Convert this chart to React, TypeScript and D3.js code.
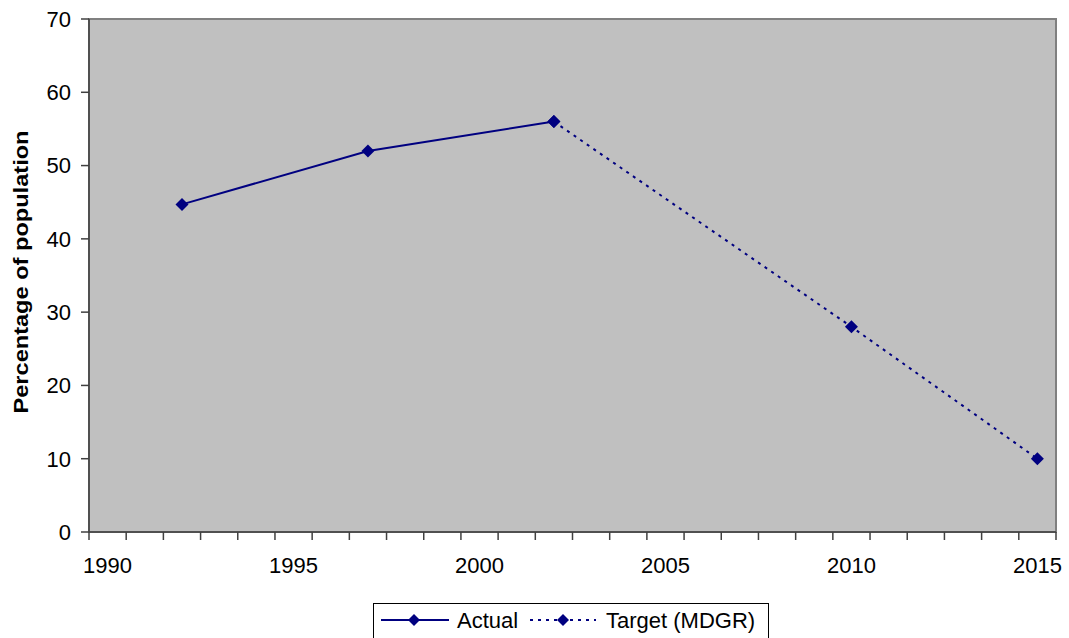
import React from "react";
import * as d3 from "d3";

const categories: number[] = [1990, 1991, 1992, 1993, 1994, 1995, 1996, 1997, 1998, 1999, 2000, 2001, 2002, 2003, 2004, 2005, 2006, 2007, 2008, 2009, 2010, 2011, 2012, 2013, 2014, 2015];
const xTickLabels: number[] = [1990, 1995, 2000, 2005, 2010, 2015];
const yTicks: number[] = [0, 10, 20, 30, 40, 50, 60, 70];
const actualYears: number[] = [1992, 1997, 2002];
const actualValues: number[] = [44.7, 52, 56];
const targetYears: number[] = [2002, 2010, 2015];
const targetValues: number[] = [56, 28, 10];
const seriesNames = ["Actual", "Target (MDGR)"];

const W = 1069;
const H = 638;
const left = 89;
const right = 1056;
const top = 19;
const bottom = 532;
const FONT = "'Liberation Sans', Arial, sans-serif";
const NAVY = "#000080";

function Diamond({ cx, cy, r = 6.5 }: { cx: number; cy: number; r?: number }) {
  return <path d={`M${cx},${cy - r}L${cx + r},${cy}L${cx},${cy + r}L${cx - r},${cy}Z`} fill={NAVY} />;
}

export default function App() {
  const x = d3.scaleBand<number>().domain(categories).range([left, right]).padding(0);
  const y = d3.scaleLinear().domain([0, 70]).range([bottom, top]);
  const cx = (yr: number) => (x(yr) as number) + x.bandwidth() / 2;

  const line = d3
    .line<[number, number]>()
    .x((d) => cx(d[0]))
    .y((d) => y(d[1]));
  const actual: [number, number][] = actualYears.map((yr, i) => [yr, actualValues[i]]);
  const target: [number, number][] = targetYears.map((yr, i) => [yr, targetValues[i]]);

  const boundaries = categories.map((c) => x(c) as number).concat([right]);

  return (
    <svg width={W} height={H} style={{ position: "absolute", left: 0, top: 0, background: "#fff" }} fontFamily={FONT}>
      <rect x={left} y={top} width={right - left} height={bottom - top} fill="#C0C0C0" stroke="#808080" strokeWidth={2} />
      <line x1={left} x2={left} y1={top} y2={bottom} stroke="#404040" strokeWidth={1.5} />
      <line x1={left} x2={right} y1={bottom} y2={bottom} stroke="#404040" strokeWidth={1.5} />
      {yTicks.map((t) => (
        <g key={t}>
          <line x1={left - 8} x2={left} y1={y(t)} y2={y(t)} stroke="#404040" strokeWidth={1.5} />
          <text x={71} y={y(t)} dy="0.36em" textAnchor="end" fontSize={22} fill="#000">
            {t}
          </text>
        </g>
      ))}
      {boundaries.map((b, i) => (
        <line key={i} x1={b} x2={b} y1={bottom} y2={bottom + 8} stroke="#404040" strokeWidth={1.5} />
      ))}
      {xTickLabels.map((t) => (
        <text key={t} x={cx(t)} y={573} textAnchor="middle" fontSize={22} fill="#000">
          {t}
        </text>
      ))}
      <text
        transform={`translate(28,272) rotate(-90)`}
        textAnchor="middle"
        fontSize={21}
        fontWeight="bold"
        fill="#000"
        textLength={283}
        lengthAdjust="spacingAndGlyphs"
      >
        Percentage of population
      </text>
      <path d={line(target) || ""} fill="none" stroke={NAVY} strokeWidth={2} strokeDasharray="3,5" />
      <path d={line(actual) || ""} fill="none" stroke={NAVY} strokeWidth={2} />
      {actual.map((d, i) => (
        <Diamond key={"a" + i} cx={cx(d[0])} cy={y(d[1])} />
      ))}
      {target.map((d, i) => (
        <Diamond key={"t" + i} cx={cx(d[0])} cy={y(d[1])} />
      ))}
      <g>
        <rect x={373.5} y={603.5} width={395} height={40} fill="#fff" stroke="#000" strokeWidth={1} />
        <line x1={381} x2={449} y1={620} y2={620} stroke={NAVY} strokeWidth={2} />
        <Diamond cx={414} cy={620} r={6} />
        <text x={457} y={620} dy="0.36em" fontSize={22} fill="#000">
          {seriesNames[0]}
        </text>
        <line x1={530} x2={596} y1={620} y2={620} stroke={NAVY} strokeWidth={2} strokeDasharray="3,5" />
        <Diamond cx={563} cy={620} r={6} />
        <text x={606} y={620} dy="0.36em" fontSize={22} fill="#000">
          {seriesNames[1]}
        </text>
      </g>
    </svg>
  );
}
